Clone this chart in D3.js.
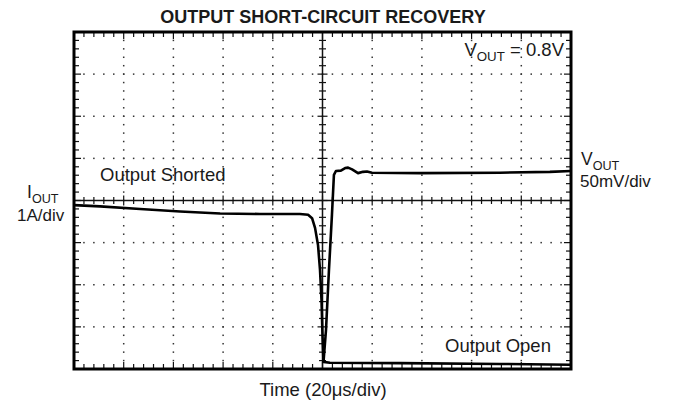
<!DOCTYPE html>
<html>
<head>
<meta charset="utf-8">
<script src="https://cdn.jsdelivr.net/npm/d3@7"></script>
<style>
	body{margin:0;background:#fff;}
	text{font-family:"Liberation Sans",Arial,sans-serif;fill:#1a1a1a;}
</style>
</head>
<body>
<svg id="osc" width="673" height="408"></svg>
<script>
/*
	Output short-circuit recovery, scope capture
*/

// time in us (20us/div, 10 div), level in divisions (8 div)
var iTime = [0,10.5,26.6,42.7,58.8,74.8,90.9,94.2,95.8,97.0,98.2,99.0,99.6,100.0,100.4,103.0,131.2,171.4,199.6];
var iLevel = [-0.11,-0.14,-0.20,-0.26,-0.31,-0.32,-0.32,-0.34,-0.42,-0.65,-1.06,-1.65,-2.36,-3.20,-3.83,-3.85,-3.86,-3.88,-3.90];

var vTime = [100.4,101.4,102.6,103.8,104.6,105.4,107.4,109.1,110.3,111.9,114.3,116.3,117.9,119.9,139.2,171.4,191.5,200];
var vLevel = [-3.83,-3.08,-1.65,-0.34,0.61,0.70,0.71,0.77,0.78,0.74,0.65,0.68,0.69,0.66,0.65,0.66,0.68,0.70];

var divX = d3.range(0,201,20);
var divY = d3.range(-4,5,1);

var svg = d3.select('#osc');
var x = d3.scaleLinear().domain([0,200]).range([74,571]);
var y = d3.scaleLinear().domain([-4,4]).range([369,32]);

function init(){
	rejilla();
	ejes();
	trazas();
	marco();
	textos();
}

//Rejilla punteada
function rejilla(){
	var g = svg.append('g');
	var stepX = d3.range(0,200.1,4);
	var stepY = d3.range(-4,4.01,0.2);
	divX.slice(1,-1).forEach(function(t){
		if(t==100) return;
		stepY.forEach(function(v){
			g.append('rect').attr('x',x(t)-0.75).attr('y',y(v)-0.75)
				.attr('width',1.5).attr('height',1.5).attr('fill','#333');
		});
	});
	divY.slice(1,-1).forEach(function(v){
		if(v==0) return;
		stepX.forEach(function(t){
			g.append('rect').attr('x',x(t)-0.75).attr('y',y(v)-0.75)
				.attr('width',1.5).attr('height',1.5).attr('fill','#333');
		});
	});
}

//Ejes centrales con marcas
function ejes(){
	var g = svg.append('g').attr('stroke','#111');
	g.append('line').attr('x1',x(0)).attr('x2',x(200)).attr('y1',y(0)).attr('y2',y(0)).attr('stroke-width',1.5);
	g.append('line').attr('x1',x(100)).attr('x2',x(100)).attr('y1',y(-4)).attr('y2',y(4)).attr('stroke-width',1.5);
	d3.range(0,200.1,4).forEach(function(t){
		var l = (t%20==0) ? 5 : 3.5;
		g.append('line').attr('x1',x(t)).attr('x2',x(t)).attr('y1',y(0)-l).attr('y2',y(0)+l).attr('stroke-width',1.2);
		//borde arriba y abajo
		var b = (t%20==0) ? 7 : 5;
		g.append('line').attr('x1',x(t)).attr('x2',x(t)).attr('y1',y(4)).attr('y2',y(4)+b).attr('stroke-width',1.2);
		g.append('line').attr('x1',x(t)).attr('x2',x(t)).attr('y1',y(-4)).attr('y2',y(-4)-b).attr('stroke-width',1.2);
	});
	d3.range(-4,4.01,0.2).forEach(function(v){
		var r = Math.round(v*5);
		var l = (r%5==0) ? 5 : 3.5;
		g.append('line').attr('x1',x(100)-l).attr('x2',x(100)+l).attr('y1',y(v)).attr('y2',y(v)).attr('stroke-width',1.2);
		var b = (r%5==0) ? 7 : 5;
		g.append('line').attr('x1',x(0)).attr('x2',x(0)+b).attr('y1',y(v)).attr('y2',y(v)).attr('stroke-width',1.2);
		g.append('line').attr('x1',x(200)).attr('x2',x(200)-b).attr('y1',y(v)).attr('y2',y(v)).attr('stroke-width',1.2);
	});
}

//Trazas
function trazas(){
	var linea = d3.line().x(function(d){return x(d[0]);}).y(function(d){return y(d[1]);});
	svg.append('path').datum(d3.zip(iTime,iLevel))
		.attr('d',linea).attr('fill','none').attr('stroke','#000')
		.attr('stroke-width',2.6).attr('stroke-linejoin','round');
	svg.append('path').datum(d3.zip(vTime,vLevel))
		.attr('d',linea).attr('fill','none').attr('stroke','#000')
		.attr('stroke-width',2.6).attr('stroke-linejoin','round');
}

function marco(){
	svg.append('rect').attr('x',x(0)).attr('y',y(4))
		.attr('width',x(200)-x(0)).attr('height',y(-4)-y(4))
		.attr('fill','none').attr('stroke','#000').attr('stroke-width',3);
}

function etiqueta(px,py,size,main,sub,rest,anchor){
	var t = svg.append('text').attr('x',px).attr('y',py).attr('font-size',size)
		.attr('text-anchor',anchor||'start');
	t.append('tspan').text(main);
	if(sub){
		t.append('tspan').attr('font-size',size*0.72).attr('dy',5).text(sub);
		if(rest) t.append('tspan').attr('dy',-5).text(rest);
	}
	return t;
}

function textos(){
	svg.append('text').attr('x',323).attr('y',23).attr('text-anchor','middle')
		.attr('font-size',18).attr('font-weight','bold').text('OUTPUT SHORT-CIRCUIT RECOVERY');
	etiqueta(564,56,18.5,'V','OUT',' = 0.8V','end');
	etiqueta(100,181,18.5,'Output Shorted');
	etiqueta(27,198,17.5,'I','OUT');
	etiqueta(17,221,17,'1A/div');
	etiqueta(581,165,17.5,'V','OUT');
	etiqueta(580,187,17,'50mV/div');
	etiqueta(445,352,18.5,'Output Open');
	svg.append('text').attr('x',323).attr('y',396).attr('text-anchor','middle')
		.attr('font-size',18.5).text('Time (20\u03bcs/div)');
}

init();
</script>
</body>
</html>
